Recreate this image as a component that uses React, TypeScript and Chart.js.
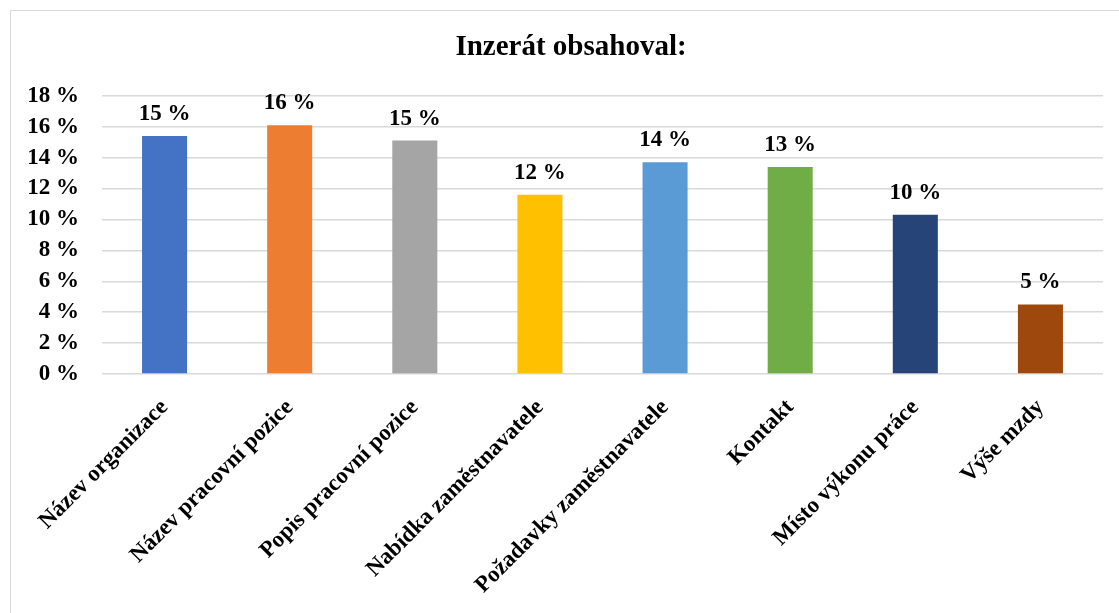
import React, { useEffect, useRef } from "react";
import { Chart, registerables } from "chart.js";

Chart.register(...registerables);

const title = "Inzerát obsahoval:";
const categories = [
  "Název organizace",
  "Název pracovní pozice",
  "Popis pracovní pozice",
  "Nabídka zaměstnavatele",
  "Požadavky zaměstnavatele",
  "Kontakt",
  "Místo výkonu práce",
  "Výše mzdy",
];
const values = [15.4, 16.1, 15.1, 11.6, 13.7, 13.4, 10.3, 4.5];
const barColors = [
  "#4472C4",
  "#ED7D31",
  "#A5A5A5",
  "#FFC000",
  "#5B9BD5",
  "#70AD47",
  "#264478",
  "#9E480E",
];
const yMin = 0;
const yMax = 18;
const yStep = 2;

const FONT = "'Liberation Serif', 'Times New Roman', serif";

const dataLabelPlugin = {
  id: "dataLabels",
  afterDatasetsDraw(chart: any) {
    const ctx = chart.ctx;
    const meta = chart.getDatasetMeta(0);
    ctx.save();
    ctx.font = `bold 23px ${FONT}`;
    ctx.fillStyle = "#000";
    ctx.textAlign = "center";
    ctx.textBaseline = "alphabetic";
    meta.data.forEach((bar: any, i: number) => {
      const v = values[i];
      ctx.fillText(`${Math.round(v)} %`, bar.x, bar.y - 16);
    });
    ctx.restore();
  },
};

export default function App() {
  const canvasRef = useRef<HTMLCanvasElement | null>(null);

  useEffect(() => {
    if (!canvasRef.current) return;
    const chart = new Chart(canvasRef.current, {
      type: "bar",
      data: {
        labels: categories,
        datasets: [
          {
            data: values,
            backgroundColor: barColors,
            borderWidth: 0,
            barPercentage: 0.36,
            categoryPercentage: 1,
          },
        ],
      },
      options: {
        animation: false,
        responsive: true,
        maintainAspectRatio: false,
        layout: { padding: { left: 0, right: 0, top: 0, bottom: 0 } },
        plugins: {
          legend: { display: false },
          tooltip: { enabled: false },
          title: {
            display: true,
            text: title,
            color: "#000",
            font: { family: FONT, size: 29, weight: "bold" },
            padding: { top: 19, bottom: 31 },
          },
        },
        scales: {
          x: {
            grid: { display: false },
            border: { display: false },
            ticks: {
              autoSkip: false,
              maxRotation: 45,
              minRotation: 45,
              color: "#000",
              padding: 12,
              font: { family: FONT, size: 23, weight: "bold" },
            },
            afterFit(scale: any) {
              scale.height = 277;
            },
          },
          y: {
            min: yMin,
            max: yMax,
            border: { display: false },
            grid: { color: "#d9d9d9", lineWidth: 1.5, drawTicks: false },
            ticks: {
              stepSize: yStep,
              color: "#000",
              padding: 23,
              font: { family: FONT, size: 23, weight: "bold" },
              callback: (v: any) => `${v} %`,
            },
            afterFit(scale: any) {
              scale.width = 91;
            },
          },
          yRightSpace: {
            type: "linear",
            position: "right",
            display: true,
            grid: { display: false, drawTicks: false },
            border: { display: false },
            ticks: { display: false },
            afterFit(scale: any) {
              scale.width = 28;
            },
          },
        },
      },
      plugins: [dataLabelPlugin],
    });
    return () => chart.destroy();
  }, []);

  return (
    <div
      style={{
        position: "absolute",
        left: 10,
        top: 10,
        width: 1120,
        height: 640,
        border: "1px solid #d9d9d9",
        background: "#fff",
      }}
    >
      <canvas ref={canvasRef} />
    </div>
  );
}
